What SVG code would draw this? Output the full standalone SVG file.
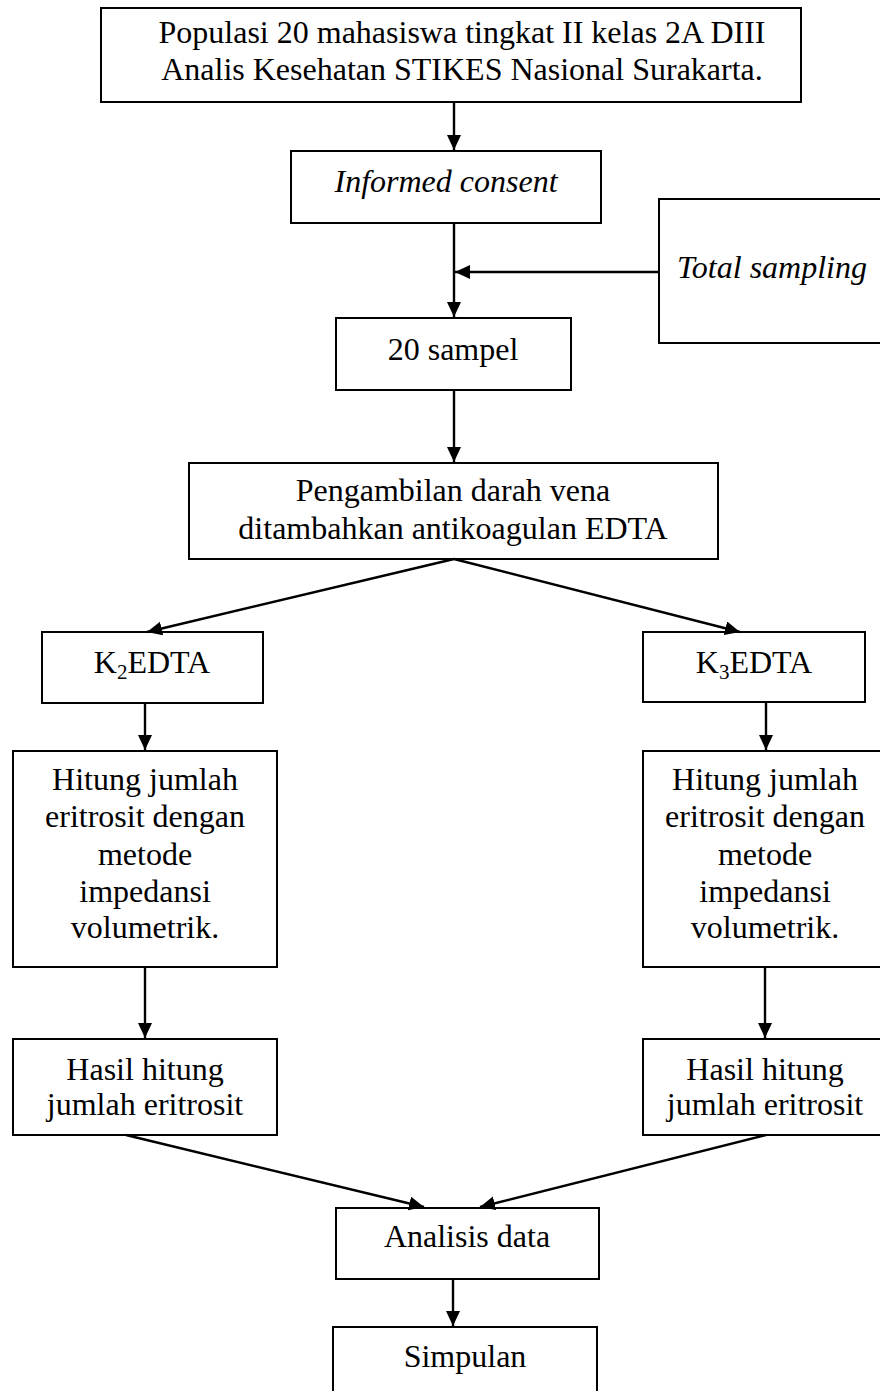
<svg xmlns="http://www.w3.org/2000/svg" width="880" height="1391" viewBox="0 0 880 1391">
<style>
.box{fill:#fff;stroke:#000;stroke-width:2}
.t{font-family:"Liberation Serif","Times New Roman",serif;font-size:32px;fill:#000;text-anchor:middle}
.i{font-style:italic}
.c{fill:none;stroke:#000;stroke-width:2.4}
</style>
<defs>
<marker id="ah" markerUnits="userSpaceOnUse" markerWidth="16" markerHeight="15" refX="15" refY="7" orient="auto">
<path d="M0,0 L15,7 L0,14 z" fill="#000"/>
</marker>
</defs>
<rect width="880" height="1391" fill="#fff"/>
<g id="n-populasi">
<rect class="box" x="101" y="8" width="700" height="94"/>
<text class="t" x="462" y="43">Populasi 20 mahasiswa tingkat II kelas 2A DIII</text>
<text class="t" x="462" y="80">Analis Kesehatan STIKES Nasional Surakarta.</text>
</g>
<g id="n-informed">
<rect class="box" x="291" y="151" width="310" height="72"/>
<text class="t i" x="446" y="192">Informed consent</text>
</g>
<g id="n-total">
<rect class="box" x="659" y="199" width="240" height="144"/>
<text class="t i" x="677" y="278" style="text-anchor:start">Total sampling</text>
</g>
<g id="n-sampel">
<rect class="box" x="336" y="318" width="235" height="72"/>
<text class="t" x="453" y="360">20 sampel</text>
</g>
<g id="n-pengambilan">
<rect class="box" x="189" y="463" width="529" height="96"/>
<text class="t" x="453" y="501">Pengambilan darah vena</text>
<text class="t" x="453" y="539">ditambahkan antikoagulan EDTA</text>
</g>
<g id="n-k2">
<rect class="box" x="42" y="632" width="221" height="71"/>
<text class="t" x="152" y="673">K<tspan font-size="21" dy="6">2</tspan><tspan dy="-6">EDTA</tspan></text>
</g>
<g id="n-k3">
<rect class="box" x="643" y="632" width="222" height="70"/>
<text class="t" x="754" y="673">K<tspan font-size="21" dy="6">3</tspan><tspan dy="-6">EDTA</tspan></text>
</g>
<g id="n-hitung1">
<rect class="box" x="13" y="751" width="264" height="216"/>
<text class="t" x="145" y="790">Hitung jumlah</text>
<text class="t" x="145" y="827">eritrosit dengan</text>
<text class="t" x="145" y="865">metode</text>
<text class="t" x="145" y="902">impedansi</text>
<text class="t" x="145" y="938">volumetrik.</text>
</g>
<g id="n-hitung2">
<rect class="box" x="643" y="751" width="244" height="216"/>
<text class="t" x="765" y="790">Hitung jumlah</text>
<text class="t" x="765" y="827">eritrosit dengan</text>
<text class="t" x="765" y="865">metode</text>
<text class="t" x="765" y="902">impedansi</text>
<text class="t" x="765" y="938">volumetrik.</text>
</g>
<g id="n-hasil1">
<rect class="box" x="13" y="1039" width="264" height="96"/>
<text class="t" x="145" y="1080">Hasil hitung</text>
<text class="t" x="145" y="1115">jumlah eritrosit</text>
</g>
<g id="n-hasil2">
<rect class="box" x="643" y="1039" width="244" height="96"/>
<text class="t" x="765" y="1080">Hasil hitung</text>
<text class="t" x="765" y="1115">jumlah eritrosit</text>
</g>
<g id="n-analisis">
<rect class="box" x="336" y="1208" width="263" height="71"/>
<text class="t" x="467" y="1247">Analisis data</text>
</g>
<g id="n-simpulan">
<rect class="box" x="333" y="1327" width="264" height="80"/>
<text class="t" x="465" y="1367">Simpulan</text>
</g>
<g id="connectors">
<line class="c" x1="454" y1="102" x2="454" y2="150" marker-end="url(#ah)"/>
<line class="c" x1="454" y1="223" x2="454" y2="317" marker-end="url(#ah)"/>
<line class="c" x1="659" y1="272" x2="455" y2="272" marker-end="url(#ah)"/>
<line class="c" x1="454" y1="390" x2="454" y2="462" marker-end="url(#ah)"/>
<line class="c" x1="454" y1="559" x2="147" y2="632" marker-end="url(#ah)"/>
<line class="c" x1="454" y1="559" x2="740" y2="632" marker-end="url(#ah)"/>
<line class="c" x1="145" y1="703" x2="145" y2="750" marker-end="url(#ah)"/>
<line class="c" x1="766" y1="702" x2="766" y2="750" marker-end="url(#ah)"/>
<line class="c" x1="145" y1="967" x2="145" y2="1038" marker-end="url(#ah)"/>
<line class="c" x1="765" y1="967" x2="765" y2="1038" marker-end="url(#ah)"/>
<line class="c" x1="126" y1="1135" x2="424" y2="1207" marker-end="url(#ah)"/>
<line class="c" x1="766" y1="1135" x2="480" y2="1207" marker-end="url(#ah)"/>
<line class="c" x1="453" y1="1279" x2="453" y2="1326" marker-end="url(#ah)"/>
</g>
</svg>
